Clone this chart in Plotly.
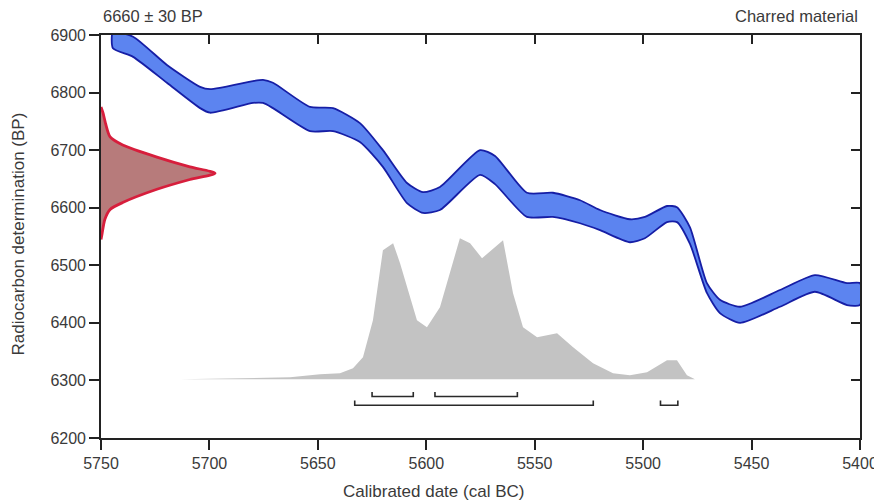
import plotly.graph_objects as go

# Calibration curve (IntCal band)
cal_years = [5744.5, 5735.2, 5719.6, 5704.3, 5699.7, 5679.9, 5675.3, 5670.7, 5653.6, 5643.0,
             5630.6, 5620.0, 5608.9, 5601.5, 5593.7, 5575.2, 5568.3, 5553.6, 5541.6, 5529.1,
             5519.9, 5506.1, 5499.2, 5489.0, 5484.4, 5478.4, 5470.6, 5464.6, 5455.3, 5436.9,
             5420.8, 5406.0, 5400.0]
cal_upper = [6905, 6897, 6848, 6810, 6806, 6820, 6822, 6817, 6775, 6773,
             6747, 6700, 6643, 6627, 6636, 6700, 6690, 6626, 6626, 6613,
             6596, 6580, 6584, 6603, 6601, 6566, 6469, 6440, 6428, 6457,
             6483, 6469, 6469]
cal_lower = [6877, 6862, 6817, 6773, 6765, 6782, 6782, 6773, 6733, 6733,
             6714, 6671, 6608, 6591, 6596, 6657, 6641, 6584, 6584, 6573,
             6561, 6540, 6547, 6575, 6575, 6537, 6452, 6417, 6400, 6428,
             6454, 6431, 6431]

rc_bp = [6775, 6765, 6745, 6723, 6709, 6688, 6671, 6660, 6649, 6632, 6609, 6597, 6580, 6555, 6545]
rc_width = [0, 0.9, 2.2, 4.2, 10.0, 25.8, 41.0, 52.6, 41.0, 25.8, 10.0, 4.2, 1.8, 0.5, 0]

# Calibrated probability distribution (relative)
prob_years = [5713.6, 5662.8, 5649.0, 5639.8, 5633.8, 5629.2, 5624.6, 5620.0, 5615.3, 5612.1,
              5604.3, 5599.7, 5593.7, 5584.5, 5579.8, 5574.3, 5564.6, 5560.0, 5555.4, 5548.9,
              5539.7, 5532.3, 5523.1, 5513.9, 5506.1, 5498.2, 5489.0, 5484.4, 5479.8, 5476.1]
prob_vals = [0, 0.014, 0.035, 0.043, 0.078, 0.156, 0.418, 0.915, 0.965, 0.823,
             0.418, 0.369, 0.511, 1.0, 0.965, 0.858, 0.986, 0.61, 0.369, 0.298,
             0.326, 0.227, 0.113, 0.043, 0.028, 0.05, 0.135, 0.135, 0.028, 0]

# HPD ranges
hpd68 = [(5625, 5606), (5596, 5558)]
hpd95 = [(5633, 5523), (5492, 5484)]

x_ticks = [5750, 5700, 5650, 5600, 5550, 5500, 5450, 5400]
y_ticks = [6200, 6300, 6400, 6500, 6600, 6700, 6800, 6900]

prob_base = 6302
prob_scale = 245
rc_origin = 5750
ink = "#3a3a3a"
font = "Liberation Sans, Arial, sans-serif"

fig = go.Figure()

# Probability distribution (grey)
fig.add_trace(go.Scatter(
    x=prob_years + prob_years[::-1],
    y=[prob_base + v * prob_scale for v in prob_vals] + [prob_base] * len(prob_years),
    fill="toself", fillcolor="#c3c3c3", line=dict(width=0), mode="lines",
    hoverinfo="skip", showlegend=False))

# Calibration curve band
fig.add_trace(go.Scatter(
    x=cal_years + cal_years[::-1] + [cal_years[0]],
    y=cal_upper + cal_lower[::-1] + [cal_upper[0]],
    fill="toself", fillcolor="rgb(92,132,240)",
    line=dict(color="rgb(22,30,165)", width=1.8, shape="spline", smoothing=0.6),
    mode="lines", hoverinfo="skip", showlegend=False))

# Radiocarbon measurement (red)
fig.add_trace(go.Scatter(
    x=[rc_origin - w for w in rc_width],
    y=rc_bp,
    fill="toself", fillcolor="rgba(170,100,100,0.85)",
    line=dict(color="rgb(215,30,60)", width=2.8, shape="spline", smoothing=0.7),
    mode="lines", hoverinfo="skip", showlegend=False))

# HPD brackets
for (a, b), yy in [(r, 6272) for r in hpd68] + [(r, 6257) for r in hpd95]:
    fig.add_trace(go.Scatter(
        x=[a, a, b, b], y=[yy + 8, yy, yy, yy + 8], mode="lines",
        line=dict(color="#2a2a2a", width=1.6), hoverinfo="skip", showlegend=False))

# dummy traces for mirrored axes
fig.add_trace(go.Scatter(x=[5750], y=[6200], xaxis="x2", yaxis="y2", mode="markers",
                         marker=dict(opacity=0), hoverinfo="skip", showlegend=False))

axis_common = dict(showgrid=False, zeroline=False, showline=True, linecolor="#222222",
                   linewidth=1.6, tickcolor="#222222", tickwidth=1.6, automargin=False,
                   tickfont=dict(family=font, size=16, color=ink))

fig.update_layout(
    width=874, height=496,
    margin=dict(l=93, r=22, t=27, b=66),
    paper_bgcolor="white", plot_bgcolor="white",
    xaxis=dict(range=[5750, 5400], tickvals=x_ticks, ticks="outside", ticklen=10, **axis_common),
    yaxis=dict(range=[6200, 6900], tickvals=y_ticks, ticks="outside", ticklen=10, **axis_common),
    xaxis2=dict(range=[5750, 5400], overlaying="x", side="top", tickvals=x_ticks, ticks="inside",
                ticklen=9, showticklabels=False, **axis_common),
    yaxis2=dict(range=[6200, 6900], overlaying="y", side="right", tickvals=y_ticks, ticks="inside",
                ticklen=9, showticklabels=False, **axis_common),
    annotations=[
        dict(text="6660 ± 30 BP", xref="paper", yref="paper", x=0, y=1, xanchor="left", yanchor="middle",
             yshift=19, showarrow=False, font=dict(family=font, size=16.5, color=ink)),
        dict(text="Charred material", xref="paper", yref="paper", x=1, y=1, xanchor="right", yanchor="middle",
             yshift=19, showarrow=False, font=dict(family=font, size=16.5, color=ink)),
        dict(text="Calibrated date (cal BC)", xref="paper", yref="paper", x=(433 - 101) / 759, y=0,
             xanchor="center", yanchor="middle", yshift=-53, showarrow=False,
             font=dict(family=font, size=17, color=ink)),
        dict(text="Radiocarbon determination (BP)", xref="paper", yref="paper", x=0, y=0.5,
             xanchor="center", yanchor="middle", xshift=-83, yshift=2, textangle=-90, showarrow=False,
             font=dict(family=font, size=17, color=ink)),
    ],
)

fig.write_html("out.html")
